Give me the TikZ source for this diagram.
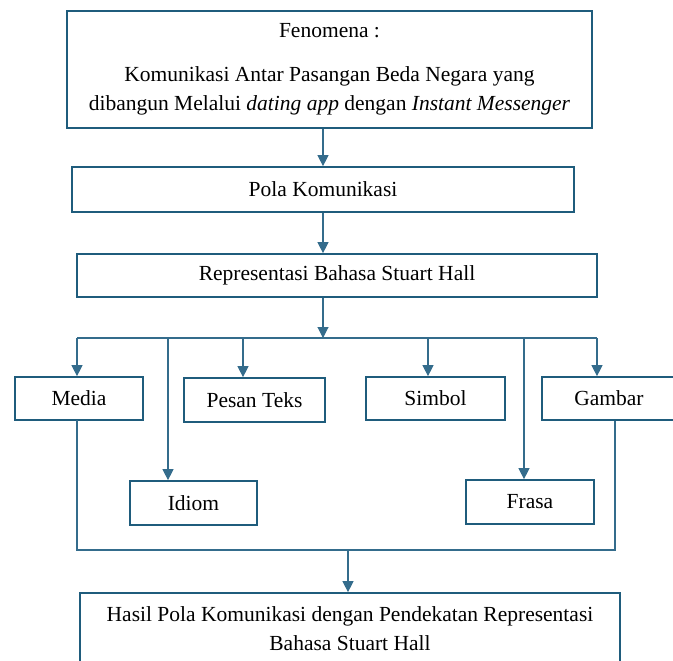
\documentclass[tikz,border=0pt]{standalone}
\usepackage{fontspec}
\setmainfont{Liberation Serif}
\usepackage{tikz}
\usetikzlibrary{arrows.meta,calc,positioning}

\definecolor{boxblue}{RGB}{31,92,124}
\definecolor{lineblue}{RGB}{52,108,140}

\begin{document}
\begin{tikzpicture}[x=1pt,y=-1pt,
  box/.style={draw=boxblue,line width=1.7pt,inner sep=0pt,align=center,
    font=\fontsize{21.5}{29}\selectfont},
  link/.style={draw=lineblue,line width=1.1pt},
  arr/.style={link,-{Triangle[width=11pt,length=11pt]}}]

\useasboundingbox (0,0) rectangle (673,661);

% Boxes
\node[box,minimum width=525,minimum height=117] (fen) at (329.5,69.5)
  {Fenomena :\\[15pt]Komunikasi Antar Pasangan Beda Negara yang\\
   dibangun Melalui \textit{dating app} dengan \textit{Instant Messenger}};
\node[box,minimum width=502,minimum height=45] (pola) at (323,189.5) {Pola Komunikasi};
\node[box,minimum width=520,minimum height=43] (rep) at (337,275.5) {Representasi Bahasa Stuart Hall};

\node[box,minimum width=128,minimum height=43] (media)  at (79,398.5)  {Media};
\node[box,minimum width=141,minimum height=44] (pesan)  at (254.5,400) {Pesan Teks};
\node[box,minimum width=139,minimum height=43] (simbol) at (435.5,398.5) {Simbol};
\node[box,minimum width=134,minimum height=43] (gambar) at (609,398.5) {Gambar};
\node[box,minimum width=127,minimum height=44] (idiom)  at (193.5,503) {Idiom};
\node[box,minimum width=128,minimum height=44] (frasa)  at (530,502)   {Frasa};

\node[box,minimum width=540,minimum height=71] (hasil) at (350,628.5)
  {Hasil Pola Komunikasi dengan Pendekatan Representasi\\Bahasa Stuart Hall};

% Branch points
\coordinate (split) at (323,338);
\coordinate (bl) at (77,338);
\coordinate (br) at (597,338);
\coordinate (t1) at (168,338);
\coordinate (t2) at (243,338);
\coordinate (t3) at (428,338);
\coordinate (t4) at (524,338);
\coordinate (m1) at (77,420);
\coordinate (m2) at (77,550);
\coordinate (m3) at (615,550);
\coordinate (m4) at (615,421);
\coordinate (join) at (348,550);

% Arrows down the middle
\draw[arr] (fen.south -| pola.north) -- (pola.north);
\draw[arr] (pola.south) -- (pola.south |- rep.north);
\draw[arr] (pola.south |- rep.south) -- (split);

% Branches
\draw[link] (bl) -- (br);
\draw[arr] (bl) -- (bl |- media.north);
\draw[arr] (t1) -- (t1 |- idiom.north);
\draw[arr] (t2) -- (t2 |- pesan.north);
\draw[arr] (t3) -- (t3 |- simbol.north);
\draw[arr] (t4) -- (t4 |- frasa.north);
\draw[arr] (br) -- (br |- gambar.north);

% Back together
\draw[link] (m1) -- (m2) -- (m3) -- (m4);
\draw[arr] (join) -- (join |- hasil.north);

\end{tikzpicture}
\end{document}
